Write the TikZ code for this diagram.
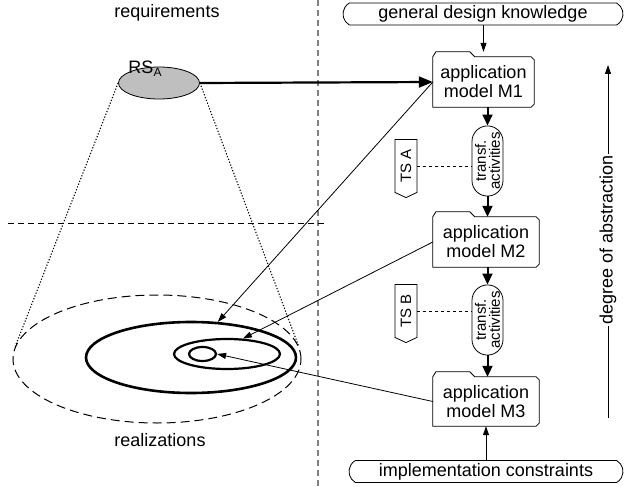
\documentclass[tikz,border=0pt]{standalone}
\usepackage{fontspec}
\setmainfont{Liberation Sans}
\usetikzlibrary{arrows.meta,shapes.misc,shapes.geometric,shapes.symbols}
\begin{document}
\begin{tikzpicture}[x=1pt,y=-1pt,
  font=\fontsize{18}{19}\selectfont,
  thinarrow/.style={-{Triangle[length=9pt,width=6pt]}, line width=0.8pt},
  thickarrow/.style={-{Triangle[length=11pt,width=10pt]}, line width=2pt},
  bigarrow/.style={-{Triangle[length=14pt,width=11pt]}, line width=2.2pt},
  modelbox/.style={inner sep=0pt, align=center, minimum height=50pt},
  transfbox/.style={draw, rounded rectangle, rotate=90, line width=0.8pt,
     minimum width=64pt, minimum height=31pt, inner sep=0pt, align=center,
     font=\fontsize{15}{14}\selectfont},
  tsbox/.style={draw, signal, signal to=west, signal pointer angle=130, rotate=90,
     line width=0.8pt, minimum width=58pt, minimum height=22pt, inner sep=1pt,
     font=\fontsize{15}{15}\selectfont},
  knowbox/.style={draw, rounded rectangle, rounded rectangle arc length=120,
     line width=0.8pt, minimum height=22pt, inner sep=0pt},
  ring/.style={draw, ellipse, inner sep=0pt},
  sepline/.style={draw=gray, line width=1.5pt, dash pattern=on 6pt off 4pt},
  dotline/.style={line width=1.1pt, dash pattern=on 1.2pt off 1.8pt},
]
\useasboundingbox (0,0) rectangle (624,487);
\newcommand\myfolder[1]{\draw[line width=0.8pt] (#1.south west) -- (#1.north west)
  -- ++(3,-5) -- ++(34,0) -- ++(5,5) -- ([xshift=-3pt]#1.north east) -- ++(3,3)
  -- ([yshift=3pt]#1.south east) -- ++(-3,3) -- cycle;}

% separators
\coordinate (vtop) at (318,0);
\coordinate (vbot) at (318,487);
\draw[sepline] (vtop) -- (vbot);
\coordinate (hl) at (8,223);
\coordinate (hr) at (327,223);
\draw[line width=0.8pt, dash pattern=on 6pt off 4pt] (hl) -- (hr);

% left side
\node (req) at (167,13) {requirements};
\node (real) at (160,440) {realizations};
\node[ring, fill=gray!50, line width=0.8pt, minimum width=81pt, minimum height=32pt] (rs) at (159,83) {};
\node (rslabel) at (145,69) {RS\raisebox{-0.35ex}{\fontsize{12}{12}\selectfont A}};

\node[ring, line width=1pt, dash pattern=on 9pt off 5pt, minimum width=288pt, minimum height=128pt] (e0) at (157,359) {};
\node[ring, line width=2.6pt, minimum width=210pt, minimum height=71pt] (e1) at (191,357.5) {};
\node[ring, line width=2.2pt, minimum width=106pt, minimum height=30pt] (e2) at (227,354) {};
\node[ring, line width=2.2pt, minimum width=27pt, minimum height=14pt] (e3) at (202.5,354) {};

\draw[dotline] (rs.west) -- (e0.175);
\draw[dotline] (rs.east) -- (e0.5);

% right side
\node[knowbox, minimum width=280pt] (gdk) at (483,14) {general design knowledge};
\node[knowbox, minimum width=274pt] (ic) at (486,471.5) {implementation constraints};

\node[modelbox, minimum width=101pt] (m1) at (483.5,82) {application\\model M1};
\node[modelbox, minimum width=106pt] (m2) at (486,242) {application\\model M2};
\node[modelbox, minimum width=106pt, minimum height=49pt] (m3) at (486,401.5) {application\\model M3};
\myfolder{m1}
\myfolder{m2}
\myfolder{m3}

\node[transfbox] (ta) at (487.5,161) {transf.\\activities};
\node[transfbox] (tb) at (487.5,320) {transf.\\activities};
\node[tsbox] (tsa) at (406,166) {TS A};
\node[tsbox] (tsb) at (406,311) {TS B};

\draw[line width=0.8pt, dashed] (tsa.south) -- (tsa.south -| ta.north);
\draw[line width=0.8pt, dashed] (tsb.south) -- (tsb.south -| tb.north);

\draw[thinarrow] (gdk.south -| m1.north) -- ([yshift=5pt]m1.north);
\draw[thickarrow] (ta.east |- m1.south) -- (ta.east);
\draw[thickarrow] (ta.west) -- (ta.west |- m2.north);
\draw[thickarrow] (tb.east |- m2.south) -- (tb.east);
\draw[thickarrow] (tb.west) -- (tb.west |- m3.north);
\draw[thinarrow] (ic.north -| m3.south) -- (m3.south);

\draw[bigarrow] (rs.east) -- (m1.west);
\draw[thinarrow] (m1.west) -- (e1.53);
\draw[thinarrow] (m2.west) -- (e2.44);
\draw[thinarrow] (m3.west) -- (e3.east);

% degree of abstraction
\coordinate (dbot) at (608,418);
\coordinate (dtop) at (608,65);
\draw[thinarrow] (dbot) -- (dtop);
\node[fill=white, rotate=90, inner sep=1pt] (doa) at (608,240) {degree of abstraction};
\end{tikzpicture}
\end{document}
